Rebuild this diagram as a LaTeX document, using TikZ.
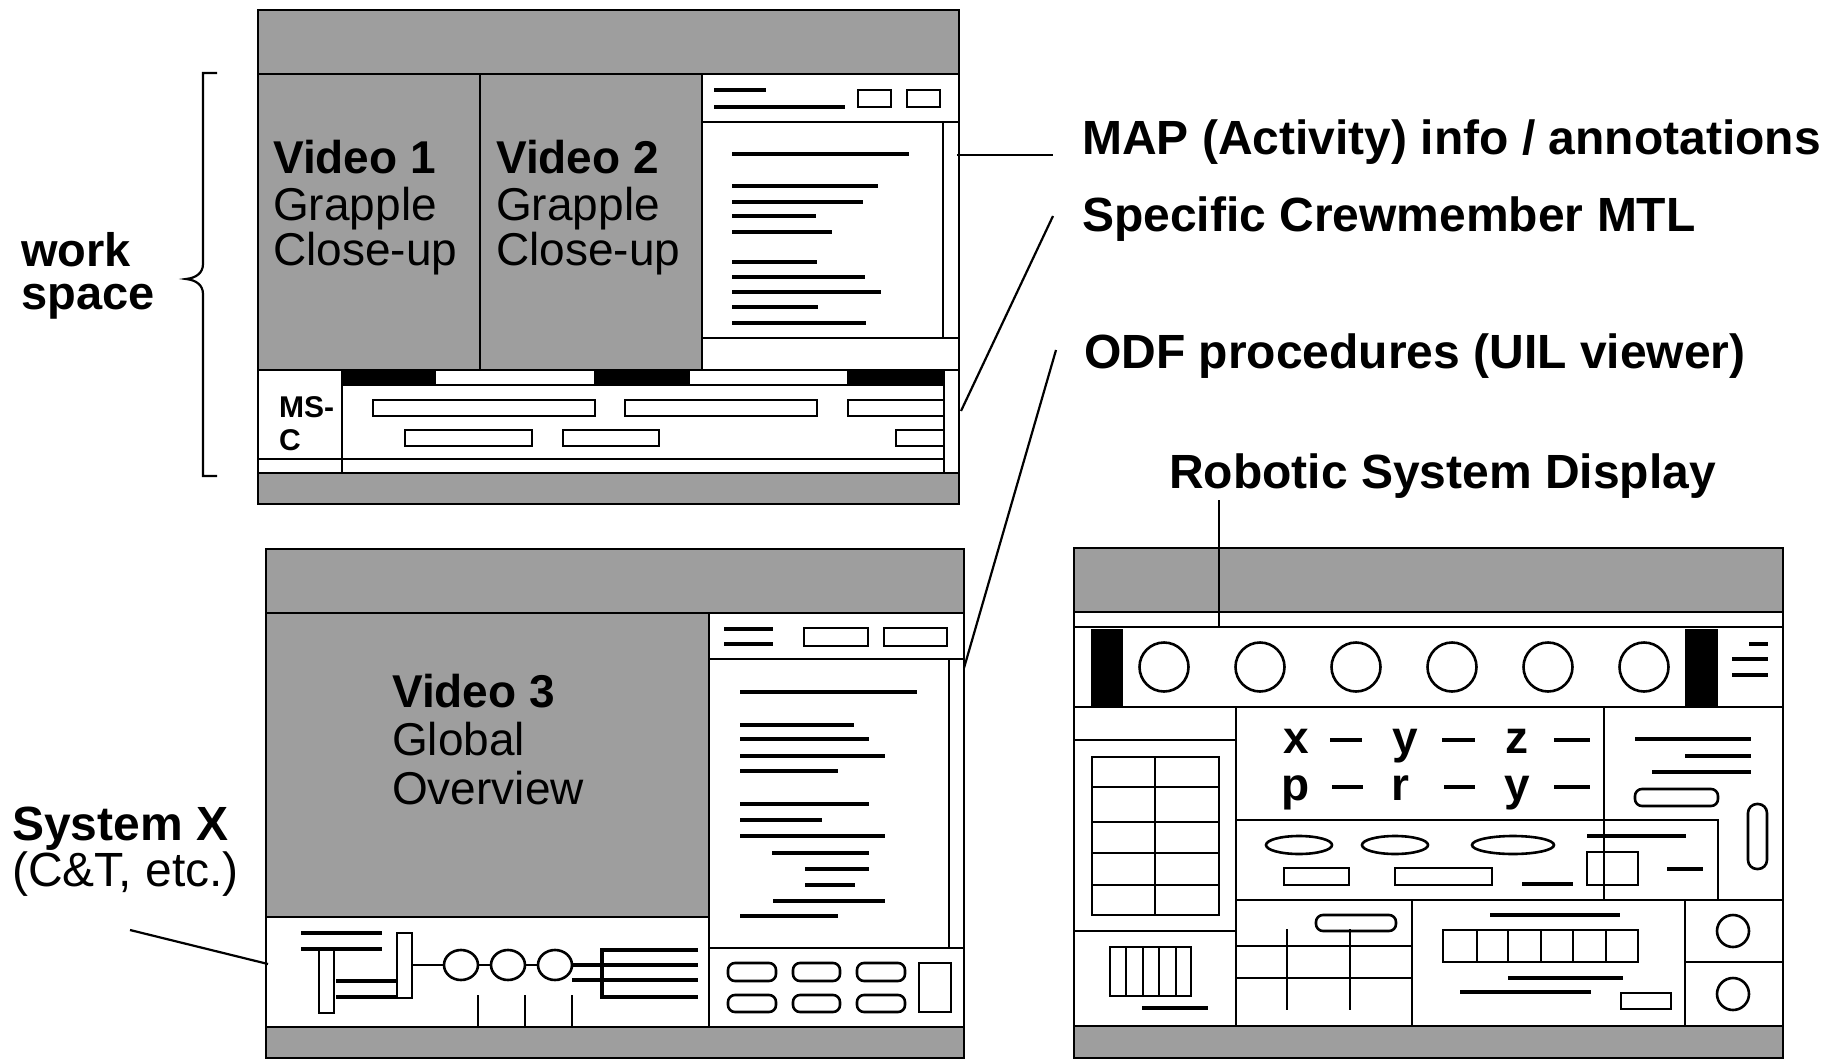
\documentclass[tikz,border=0pt]{standalone}
\usepackage{fontspec}
\usetikzlibrary{shapes.geometric}
\setmainfont{Liberation Sans}
\newcommand\labF{\fontsize{48}{56}\selectfont\bfseries}
\newcommand\labR{\fontsize{48}{56}\selectfont}
\newcommand\wsF{\fontsize{47}{43}\selectfont\bfseries}
\newcommand\vidB{\fontsize{46}{46}\selectfont\bfseries}
\newcommand\vidR{\fontsize{46}{46}\selectfont}
\newcommand\xyzF{\fontsize{46}{46}\selectfont\bfseries}
\newcommand\mscF{\fontsize{30}{30}\selectfont\bfseries}
\begin{document}
\begin{tikzpicture}[x=1pt,y=-1pt,line join=miter]
\tikzset{
  win/.style={draw,line width=2.8pt},
  shade/.style={fill=black!38,draw,line width=2.8pt},
  ln/.style={line width=2.6pt},
  thin/.style={line width=2.2pt},
  txl/.style={line width=4pt},
  bx/.style={draw,line width=2.6pt},
  rbx/.style={draw,line width=2.6pt,rounded corners=7pt},
  lbl/.style={inner sep=0pt,anchor=base west,font=\labF},
  lblr/.style={inner sep=0pt,anchor=base west,font=\labR},
  vb/.style={inner sep=0pt,anchor=base west,font=\vidB},
  vr/.style={inner sep=0pt,anchor=base west,font=\vidR},
  xyz/.style={inner sep=0pt,anchor=base,font=\xyzF},
  msc/.style={inner sep=0pt,anchor=base west,font=\mscF},
  lead/.style={line width=2.2pt},
  knob/.style={draw,line width=2.6pt,ellipse,minimum width=34pt,minimum height=30pt,inner sep=0pt}
}
\useasboundingbox (0,0) rectangle (1848,1060);
\fill[white] (0,0) rectangle (1848,1060);

% ================= Window 1 =================
\path[shade] (258,10) rectangle (959,74);
\path[shade] (258,74) rectangle (480,370);
\path[shade] (480,74) rectangle (702,370);
\draw[win] (702,74) rectangle (959,370);
\draw[ln] (702,122) -- (959,122);
\draw[txl] (714,90) -- (766,90);
\draw[txl] (714,107) -- (845,107);
\draw[bx] (858,90) rectangle (891,107);
\draw[bx] (907,90) rectangle (940,107);
\draw[ln] (943,122) -- (943,338);
\draw[ln] (702,338) -- (959,338);
\foreach \y/\e in {154/909,186/878,202/863,216/816,232/832,262/817,277/865,292/881,307/818,323/866}
  \draw[txl] (732,\y) -- (\e,\y);
% bottom strip
\draw[win] (258,370) rectangle (959,473);
\fill (342,370) rectangle (436,385);
\fill (594,370) rectangle (690,385);
\fill (847,370) rectangle (944,385);
\draw[ln] (342,385) -- (944,385);
\draw[ln] (342,370) -- (342,473);
\draw[ln] (944,370) -- (944,473);
\draw[ln] (258,459) -- (944,459);
\foreach \a/\b in {373/595,625/817,848/944}
  \draw[bx] (\a,400) rectangle (\b,416);
\foreach \a/\b in {405/532,563/659,896/944}
  \draw[bx] (\a,430) rectangle (\b,446);
\path[shade] (258,473) rectangle (959,504);
\draw[win] (258,10) rectangle (959,504);
\node[msc] (ms) at (279,417) {MS-};
\node[msc] (msc) at (279,450) {C};
\node[vb] (v1a) at (273,173) {Video 1};
\node[vr] (v1b) at (273,220) {Grapple};
\node[vr] (v1c) at (273,265) {Close-up};
\node[vb] (v2a) at (496,173) {Video 2};
\node[vr] (v2b) at (496,220) {Grapple};
\node[vr] (v2c) at (496,265) {Close-up};

% brace + work space
\draw[thin] (217,73) -- (203,73) -- (203,264) .. controls (203,273) and (196,278) .. (186,279)
  .. controls (196,280) and (203,285) .. (203,294) -- (203,476) -- (217,476);
\node[inner sep=0pt,anchor=north west,align=left,font=\wsF] (ws) at (21,232) {work\\space};

% ================= Window 2 =================
\path[shade] (266,549) rectangle (964,613);
\path[shade] (266,613) rectangle (709,917);
\draw[win] (709,613) rectangle (964,1027);
\draw[ln] (709,659) -- (964,659);
\draw[txl] (724,629) -- (773,629);
\draw[txl] (724,644) -- (773,644);
\draw[bx] (804,628) rectangle (868,646);
\draw[bx] (884,628) rectangle (947,646);
\draw[ln] (949,659) -- (949,948);
\draw[ln] (709,948) -- (964,948);
\foreach \y/\a/\e in {692/740/917,725/740/854,739/740/869,756/740/885,771/740/838,804/740/869,820/740/822,836/740/885,853/772/869,869/805/869,885/805/855,901/773/885,916/740/838}
  \draw[txl] (\a,\y) -- (\e,\y);
\foreach \a/\b in {728/776,793/840,857/905}{
  \draw[rbx] (\a,963) rectangle (\b,981);
  \draw[rbx] (\a,995) rectangle (\b,1012);
}
\draw[bx] (919,963) rectangle (951,1012);
% system X strip
\draw[win] (266,917) rectangle (709,1027);
\draw[txl] (301,933) -- (382,933);
\draw[txl] (301,949) -- (382,949);
\draw[bx] (319,949) rectangle (334,1013);
\draw[txl] (336,981) -- (398,981);
\draw[txl] (336,997) -- (398,997);
\draw[bx] (397,933) rectangle (412,998);
\node[knob] (c1) at (461,965) {};
\node[knob] (c2) at (508,965) {};
\node[knob] (c3) at (555,965) {};
\coordinate (rk) at (412,965);
\draw[ln] (rk) -- (c1.west);
\draw[ln] (c1.east) -- (c2.west);
\draw[ln] (c2.east) -- (c3.west);
\draw[txl] (c3.east) -- (698,965);
\draw[txl] (572,980) -- (698,980);
\draw[txl] (698,950) -- (602,950) -- (602,997) -- (698,997);
\foreach \x in {478,525,572} \draw[ln] (\x,995) -- (\x,1027);
\path[shade] (266,1027) rectangle (964,1058);
\draw[win] (266,549) rectangle (964,1058);
\node[vb] (v3a) at (392,707) {Video 3};
\node[vr] (v3b) at (392,755) {Global};
\node[vr] (v3c) at (392,804) {Overview};

% ================= Window 3 =================
\path[shade] (1074,548) rectangle (1783,612);
\draw[win] (1074,627) rectangle (1783,707);
\fill (1091,629) rectangle (1123,707);
\fill (1685,629) rectangle (1718,707);
\foreach \x [count=\i] in {1164,1260,1356,1452,1548,1644}
  \node[draw,line width=2.6pt,circle,minimum size=49pt,inner sep=0pt] (rc\i) at (\x,667) {};
\draw[txl] (1749,644) -- (1768,644);
\draw[txl] (1732,659) -- (1768,659);
\draw[txl] (1732,675) -- (1768,675);
% left column
\draw[win] (1074,707) rectangle (1236,1026);
\draw[ln] (1074,740) -- (1236,740);
\draw[bx] (1092,757) rectangle (1219,915);
\draw[ln] (1155,757) -- (1155,915);
\foreach \y in {787,822,853,885} \draw[ln] (1092,\y) -- (1219,\y);
\draw[ln] (1074,931) -- (1236,931);
\draw[bx] (1110,947) rectangle (1191,996);
\foreach \x in {1126,1143,1159,1176} \draw[ln] (\x,947) -- (\x,996);
\draw[txl] (1142,1008) -- (1208,1008);
% xyz box
\draw[win] (1236,707) rectangle (1604,820);
\node[xyz] (lx) at (1296,753) {x};
\node[xyz] (ly) at (1405,753) {y};
\node[xyz] (lz) at (1517,753) {z};
\node[xyz] (lp) at (1296,800) {p};
\node[xyz] (lr) at (1400,800) {r};
\node[xyz] (ly2) at (1517,800) {y};
\draw[txl] (1330,740) -- (1362,740);
\draw[txl] (1442,740) -- (1475,740);
\draw[txl] (1554,740) -- (1590,740);
\draw[txl] (1332,787) -- (1363,787);
\draw[txl] (1444,787) -- (1475,787);
\draw[txl] (1554,787) -- (1590,787);
% right column
\draw[win] (1604,707) rectangle (1783,900);
\draw[txl] (1635,739) -- (1751,739);
\draw[txl] (1685,756) -- (1751,756);
\draw[txl] (1652,772) -- (1751,772);
\draw[rbx] (1635,789) rectangle (1718,806);
\draw[draw,line width=2.6pt,rounded corners=9pt] (1748,804) rectangle (1767,869);
% middle band
\draw[win] (1236,820) rectangle (1718,900);
\draw[line width=2.6pt] (1299,845) ellipse [x radius=33, y radius=9];
\draw[line width=2.6pt] (1395,845) ellipse [x radius=33, y radius=9];
\draw[line width=2.6pt] (1513,845) ellipse [x radius=41, y radius=9];
\draw[txl] (1587,836) -- (1686,836);
\draw[bx] (1284,868) rectangle (1349,885);
\draw[bx] (1395,868) rectangle (1492,885);
\draw[txl] (1522,884) -- (1573,884);
\draw[bx] (1587,852) rectangle (1638,885);
\draw[txl] (1667,869) -- (1703,869);
% bottom band
\draw[win] (1236,900) rectangle (1412,1026);
\draw[rbx] (1316,915) rectangle (1396,931);
\draw[ln] (1236,946) -- (1412,946);
\draw[ln] (1236,978) -- (1412,978);
\draw[ln] (1287,929) -- (1287,1010);
\draw[ln] (1350,929) -- (1350,1010);
\draw[win] (1412,900) rectangle (1685,1026);
\draw[txl] (1490,915) -- (1620,915);
\draw[bx] (1443,930) rectangle (1638,962);
\foreach \x in {1477,1508,1541,1573,1606} \draw[ln] (\x,930) -- (\x,962);
\draw[txl] (1508,978) -- (1623,978);
\draw[txl] (1460,992) -- (1591,992);
\draw[bx] (1621,993) rectangle (1671,1009);
\draw[win] (1685,900) rectangle (1783,1026);
\draw[ln] (1685,962) -- (1783,962);
\draw[line width=2.6pt] (1733,931) ellipse [x radius=16, y radius=16];
\draw[line width=2.6pt] (1733,994) ellipse [x radius=16, y radius=16];
\path[shade] (1074,1026) rectangle (1783,1058);
\draw[win] (1074,548) rectangle (1783,1058);

% ================= Labels and leaders =================
\node[lbl] (map) at (1082,154) {MAP (Activity) info / annotations};
\node[lbl] (crew) at (1082,231) {Specific Crewmember MTL};
\node[lbl] (odf) at (1084,368) {ODF procedures (UIL viewer)};
\node[lbl] (rsd) at (1169,488) {Robotic System Display};
\node[lbl] (sysx) at (12,840) {System X};
\node[lblr] (ct) at (12,886) {(C\&T, etc.)};

\coordinate (mapA) at (957,155);
\coordinate (mapB) at (1053,155);
\coordinate (crewA) at (961,411);
\coordinate (crewB) at (1053,216);
\coordinate (odfA) at (964,668);
\coordinate (odfB) at (1056,350);
\coordinate (rsdA) at (1219,500);
\coordinate (rsdB) at (1219,627);
\coordinate (sxA) at (130,930);
\coordinate (sxB) at (268,964);
\draw[lead] (mapA) -- (mapB);
\draw[lead] (crewA) -- (crewB);
\draw[lead] (odfA) -- (odfB);
\draw[lead] (rsdA) -- (rsdB);
\draw[lead] (sxA) -- (sxB);
\end{tikzpicture}
\end{document}
